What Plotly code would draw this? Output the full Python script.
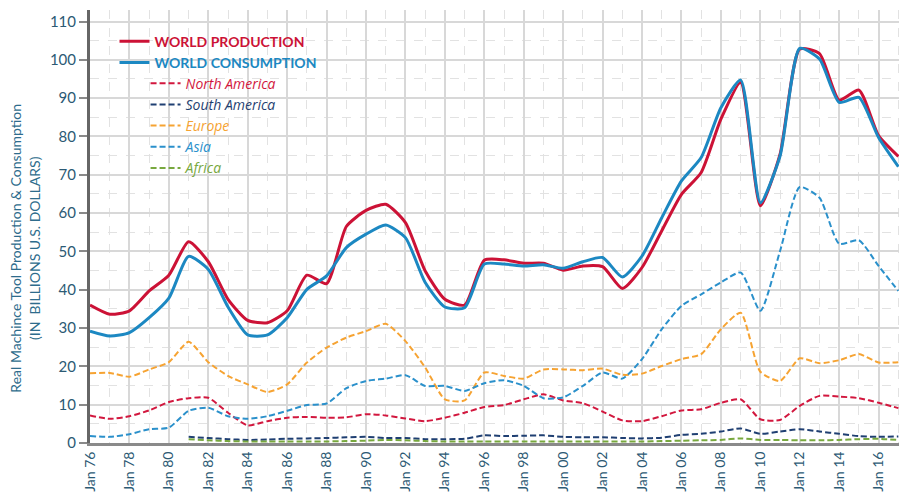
import plotly.graph_objects as go

years = [f"{y}-01-01" for y in range(1976, 2018)]

world_production = [
    36.0, 33.6, 34.5, 39.7, 43.8, 52.5, 47.3, 37.5, 32.0, 31.4,
    34.5, 43.8, 41.6, 56.5, 60.7, 62.3, 57.5, 44.9, 37.5, 36.0,
    47.7, 47.8, 46.9, 46.9, 45.1, 46.2, 46.0, 40.3, 45.8, 55.4,
    64.9, 70.6, 84.5, 94.1, 61.9, 75.4, 102.8, 101.6, 89.5, 92.1,
    80.2, 74.8,
]
world_consumption = [
    29.2, 27.9, 28.8, 32.7, 37.8, 48.7, 45.3, 35.5, 28.2, 28.2,
    32.7, 40.1, 43.6, 51.0, 54.5, 56.9, 53.6, 41.9, 35.5, 35.3,
    46.7, 46.7, 46.2, 46.5, 45.6, 47.3, 48.4, 43.3, 48.8, 58.8,
    68.4, 74.5, 87.5, 94.7, 62.7, 74.9, 103.0, 100.2, 88.9, 90.2,
    79.7, 72.1,
]
north_america = [
    7.2, 6.3, 7.0, 8.5, 10.7, 11.7, 11.8, 7.9, 4.6, 5.7,
    6.6, 6.8, 6.6, 6.7, 7.5, 7.2, 6.4, 5.7, 6.6, 7.9,
    9.4, 9.9, 11.4, 12.7, 11.1, 10.4, 8.2, 5.9, 5.7, 7.0,
    8.5, 8.8, 10.5, 11.4, 6.2, 6.0, 9.7, 12.3, 12.1, 11.7,
    10.5, 9.1,
]
south_america = [
    None, None, None, None, None, 1.6, 1.3, 1.0, 0.8, 0.9,
    1.1, 1.2, 1.3, 1.5, 1.6, 1.3, 1.3, 1.0, 1.0, 1.1,
    2.0, 1.8, 1.9, 2.0, 1.6, 1.5, 1.5, 1.3, 1.2, 1.4,
    2.1, 2.4, 3.0, 3.8, 2.4, 3.0, 3.6, 3.0, 2.4, 1.8,
    1.6, 1.7,
]
europe = [
    18.2, 18.3, 17.3, 19.2, 21.1, 26.4, 21.1, 17.5, 15.3, 13.3,
    15.3, 21.0, 24.9, 27.5, 29.2, 31.1, 26.6, 19.7, 11.4, 11.1,
    18.4, 17.5, 16.8, 19.2, 19.2, 19.0, 19.4, 17.8, 18.1, 20.1,
    21.9, 23.2, 29.7, 34.0, 18.6, 16.2, 22.1, 20.8, 21.6, 23.2,
    21.0, 21.1,
]
asia = [
    1.8, 1.6, 2.3, 3.6, 4.0, 8.4, 9.2, 7.0, 6.3, 7.0,
    8.4, 9.9, 10.3, 14.3, 16.2, 16.8, 17.7, 14.9, 14.9, 13.6,
    15.6, 16.4, 14.9, 11.7, 11.9, 14.9, 18.4, 16.8, 21.9, 29.7,
    35.8, 38.8, 41.9, 44.5, 34.5, 50.1, 66.8, 64.0, 52.0, 52.9,
    46.2, 39.7,
]
africa = [
    None, None, None, None, None, 1.0, 0.7, 0.5, 0.4, 0.4,
    0.4, 0.4, 0.4, 0.5, 0.6, 0.8, 0.7, 0.5, 0.4, 0.4,
    0.4, 0.4, 0.4, 0.4, 0.4, 0.4, 0.4, 0.4, 0.4, 0.5,
    0.6, 0.7, 0.8, 1.2, 0.8, 0.8, 0.7, 0.7, 0.8, 1.0,
    1.1, 0.8,
]

RED = "#CC1236"
BLUE = "#1C88C2"
TEXT = "#2C5A74"

# (name, values, color) -- regional series, dashed
regions = [
    ("North America", north_america, "#D2173E"),
    ("South America", south_america, "#1F3F72"),
    ("Europe", europe, "#F6A332"),
    ("Asia", asia, "#2A90CB"),
    ("Africa", africa, "#78A83E"),
]

fig = go.Figure()

for name, vals, color in regions:
    fig.add_trace(go.Scatter(
        x=years, y=vals, mode="lines",
        line=dict(color=color, width=2, dash="6px,3px", shape="spline", smoothing=0.6),
        name=f"<i><span style='color:{color}'>{name}</span></i>",
        legend="legend2",
    ))

fig.add_trace(go.Scatter(
    x=years, y=world_production, mode="lines",
    line=dict(color=RED, width=3, shape="spline", smoothing=0.6),
    name=f"<b><span style='color:{RED}'>WORLD PRODUCTION</span></b>",
    legend="legend",
))
fig.add_trace(go.Scatter(
    x=years, y=world_consumption, mode="lines",
    line=dict(color=BLUE, width=3, shape="spline", smoothing=0.6),
    name=f"<b><span style='color:{BLUE}'>WORLD CONSUMPTION</span></b>",
    legend="legend",
))

# white box behind the legends
fig.add_shape(type="rect", xref="paper", yref="paper",
              x0=0.0245, x1=0.2876, y0=0.596, y1=0.965,
              fillcolor="white", line=dict(width=0), layer="between")

fig.add_annotation(
    text="Real Machince Tool Production & Consumption<br>(IN  BILLIONS U.S. DOLLARS)",
    xref="paper", yref="paper", x=0, y=0.45, xanchor="right", yanchor="middle",
    xshift=-46, textangle=-90, showarrow=False,
    font=dict(size=14, color="#2E6C8C"),
)

# page body adds an 8px margin, so the figure is sized 8px smaller
fig.update_layout(
    width=899, height=490,
    margin=dict(l=82, r=0, t=2, b=55),
    paper_bgcolor="white", plot_bgcolor="white",
    font=dict(family="Lato, Open Sans, sans-serif", color=TEXT, size=14),
    showlegend=True,
    legend=dict(x=0.03, y=0.964, xanchor="left", yanchor="top",
                bgcolor="rgba(0,0,0,0)", font=dict(size=14),
                itemwidth=30, tracegroupgap=0),
    legend2=dict(x=0.068, y=0.867, xanchor="left", yanchor="top",
                 bgcolor="rgba(0,0,0,0)", font=dict(size=14, family="Open Sans, sans-serif"),
                 itemwidth=30, tracegroupgap=0),
    xaxis=dict(
        type="date", range=["1976-01-01", "2017-06-10"],
        tick0="1976-01-01", dtick="M24", tickformat="%b %y", tickangle=-90,
        showgrid=True, gridcolor="#D8D8D8", gridwidth=1.5,
        minor=dict(dtick="M12", tick0="1976-01-01", showgrid=True,
                   gridcolor="#E2E2E2", griddash="dash", gridwidth=1),
        showline=True, linecolor="#8A8A8A", linewidth=3,
        ticks="", tickfont=dict(size=14, color=TEXT), zeroline=False,
    ),
    yaxis=dict(
        range=[0, 113], tick0=0, dtick=10,
        showgrid=True, gridcolor="#D8D8D8", gridwidth=1.5,
        minor=dict(dtick=5, showgrid=True, gridcolor="#E2E2E2", griddash="dash", gridwidth=1),
        showline=True, linecolor="#666666", linewidth=3,
        ticks="outside", ticklen=8, tickcolor="#8A8A8A", tickwidth=1.5,
        tickfont=dict(size=15, color=TEXT), zeroline=False,
    ),
)

fig.write_html("out.html")
